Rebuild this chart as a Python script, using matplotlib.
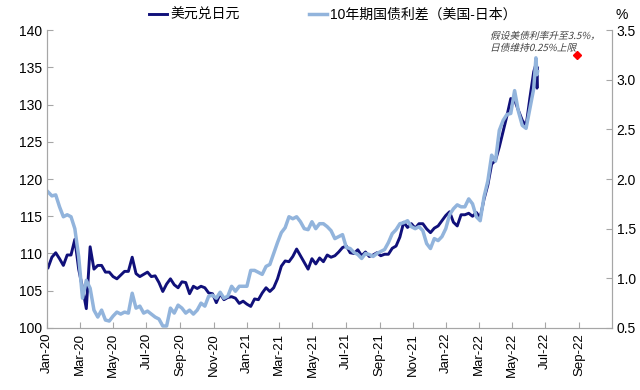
import matplotlib
matplotlib.use("Agg")
import matplotlib.pyplot as plt
import matplotlib.dates as mdates
from matplotlib.textpath import TextPath
from matplotlib.patches import PathPatch
from matplotlib.font_manager import FontProperties
from matplotlib.transforms import Affine2D
import pandas as pd
import numpy as np

plt.rcParams['font.family'] = ['Liberation Sans', 'Noto Sans CJK SC', 'DejaVu Sans']

# weekly dates (Fridays) plus a few mid-June 2022 days
dates = list(pd.date_range('2020-01-03', '2022-06-10', freq='W-FRI'))
dates += [pd.Timestamp('2022-06-14'), pd.Timestamp('2022-06-16'), pd.Timestamp('2022-06-17')]

# USD/JPY
usdjpy = [
    # 2020
    108.1, 109.5, 110.1, 109.3, 108.4,
    109.8, 109.8, 111.9, 107.9,
    105.4, 102.6, 110.9, 107.9,
    108.4, 108.4, 107.5, 107.5,
    106.9, 106.6, 107.1, 107.6, 107.6,
    109.5, 107.3, 106.9, 107.2,
    107.5, 106.9, 107.0, 106.1, 104.9,
    105.9, 106.6, 105.8, 105.4,
    106.2, 106.1, 104.6, 105.6,
    105.3, 105.6, 105.4, 104.7, 104.6,
    103.4, 104.6, 103.8, 104.1,
    104.2, 104.0, 103.3, 103.6,
    # 2021
    103.2, 102.9, 103.9, 103.8, 104.7,
    105.4, 104.9, 105.4, 106.6,
    108.3, 109.0, 108.9, 109.6,
    110.6, 109.7, 108.8, 107.9, 109.3,
    108.6, 109.4, 108.9, 109.8,
    109.5, 109.7, 110.2, 110.8,
    111.0, 110.1, 110.0, 110.5, 109.7,
    110.2, 109.6, 109.8, 110.1,
    109.7, 109.9, 109.9, 110.7,
    111.0, 112.2, 114.2, 113.5, 114.0,
    113.4, 114.0, 114.0, 113.3,
    112.8, 113.4, 113.7, 114.4, 115.1,
    # 2022
    115.6, 114.2, 113.7, 115.2,
    115.2, 115.4, 115.0, 115.5,
    114.8, 117.3, 119.2, 122.0,
    122.5, 124.3, 126.4, 128.5, 130.8,
    130.6, 129.2, 127.9, 127.1,
    130.9, 134.4,
    135.4, 132.2, 134.9,
]

# 10Y government bond yield spread, US minus Japan (%)
spread = [
    # 2020
    1.87, 1.83, 1.84, 1.72, 1.62,
    1.64, 1.62, 1.50, 1.22,
    0.80, 0.98, 0.90, 0.68,
    0.61, 0.68, 0.58, 0.57,
    0.62, 0.66, 0.64, 0.66, 0.65,
    0.85, 0.70, 0.72, 0.65,
    0.67, 0.64, 0.61, 0.59, 0.52,
    0.52, 0.70, 0.65, 0.73,
    0.70, 0.65, 0.68, 0.64,
    0.68, 0.75, 0.72, 0.82, 0.83,
    0.80, 0.86, 0.80, 0.82,
    0.92, 0.87, 0.92, 0.92,
    # 2021
    0.92, 1.08, 1.08, 1.06, 1.04,
    1.12, 1.14, 1.25, 1.36,
    1.46, 1.51, 1.62, 1.60,
    1.62, 1.57, 1.50, 1.49, 1.57,
    1.50, 1.55, 1.55, 1.52,
    1.48, 1.40, 1.42, 1.44,
    1.31, 1.30, 1.26, 1.24, 1.20,
    1.25, 1.24, 1.22, 1.25,
    1.27, 1.29, 1.36, 1.45,
    1.49, 1.55, 1.56, 1.58, 1.52,
    1.50, 1.52, 1.48, 1.35,
    1.30, 1.40, 1.38, 1.42, 1.50,
    # 2022
    1.64, 1.70, 1.74, 1.72,
    1.72, 1.80, 1.75, 1.62,
    1.58, 1.82, 1.98, 2.24,
    2.18, 2.49, 2.59, 2.65, 2.66,
    2.89, 2.68, 2.54, 2.51,
    2.71, 2.91,
    3.22, 3.05, 3.08,
]

# assumption point: US 3.5% minus JGB cap 0.25%
assume_date = pd.Timestamp('2022-08-28')
assume_value = 3.25
note_lines = ['假设美债利率升至3.5%，', '日债维持0.25%上限']

dark = '#10107a'
light = '#92b4dc'
grey = '#a6a6a6'

fig = plt.figure(figsize=(6.4, 3.9), dpi=100)
ax = fig.add_axes([0.0734, 0.159, 0.8826, 0.764])
ax2 = ax.twinx()

l1, = ax.plot(dates, usdjpy, color=dark, linewidth=2.1, label='美元兑日元')
l2, = ax2.plot(dates, spread, color=light, linewidth=2.5, label='10年期国债利差（美国-日本）')
ax2.plot([assume_date], [assume_value], marker='D', color='#ff0000', markersize=4.2, linestyle='none')

ax.set_ylim(100, 140)
ax.set_yticks(np.arange(100, 141, 5))
ax2.set_ylim(0.5, 3.5)
ax2.set_yticks(np.arange(0.5, 3.51, 0.5))
ax2.yaxis.set_major_formatter(matplotlib.ticker.FormatStrFormatter('%.1f'))

ax.set_xlim(pd.Timestamp('2020-01-01'), pd.Timestamp('2022-10-31'))
ax.xaxis.set_major_locator(mdates.MonthLocator(bymonth=[1, 3, 5, 7, 9, 11]))
ax.xaxis.set_major_formatter(mdates.DateFormatter('%b-%y'))
for lab in ax.get_xticklabels():
    lab.set_rotation(90)

for a in (ax, ax2):
    a.spines['top'].set_visible(False)
    for s in ('left', 'right', 'bottom'):
        a.spines[s].set_color(grey)
    a.tick_params(direction='in', colors=grey, labelcolor='#000000', labelsize=10, length=4)
ax.tick_params(axis='x', labelsize=9.5)

# slanted note (CJK font has no italic, so skew the glyph outlines)
fp = FontProperties(family='Noto Sans CJK SC', size=7)
for i, line in enumerate(note_lines):
    tp = TextPath((0, 0), line, prop=fp)
    tr = (Affine2D().skew_deg(14, 0).scale(1 / 72)
          .translate(490 / 100, (390 - 39 - i * 12) / 100) + fig.dpi_scale_trans)
    fig.patches.append(PathPatch(tp, transform=tr, facecolor='#404040',
                                 edgecolor='none', figure=fig))

fig.legend(handles=[l1, l2], loc='center', bbox_to_anchor=(0.52, 0.962), ncol=2,
           frameon=False, fontsize=10, handlelength=1.3, handletextpad=0.2, columnspacing=5.0)
fig.text(0.962, 0.962, '%', fontsize=10, ha='left', va='center')

fig.savefig('out.png', dpi=100)
